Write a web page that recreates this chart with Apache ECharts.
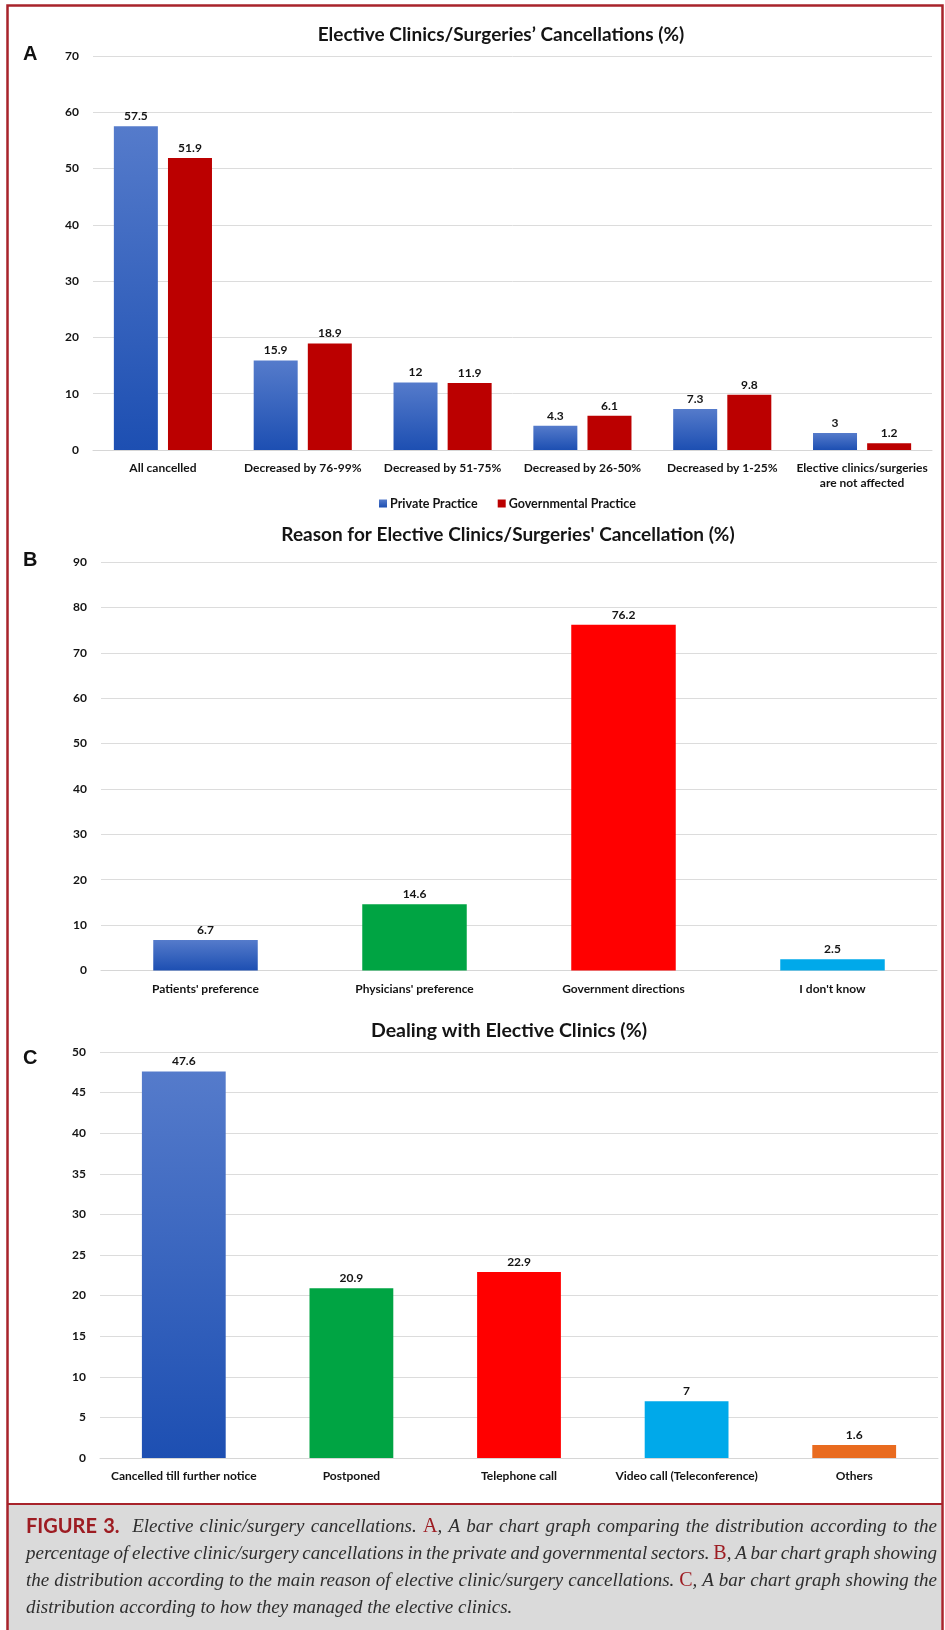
<!DOCTYPE html>
<html>
<head>
<meta charset="utf-8">
<script src="https://cdn.jsdelivr.net/npm/echarts@6/dist/echarts.min.js"></script>
<style>
  html, body { margin: 0; padding: 0; background: #fff; }
  #chart { width: 945px; height: 1630px; }
</style>
</head>
<body>
<div id="chart"></div>
<script>
// Panel A: share of elective clinic/surgery cancellations by sector
const categoriesA = ['All cancelled', 'Decreased by 76-99%', 'Decreased by 51-75%', 'Decreased by 26-50%', 'Decreased by 1-25%', 'Elective clinics/surgeries\nare not affected'];
const privatePractice = [57.5, 15.9, 12, 4.3, 7.3, 3];
const governmentalPractice = [51.9, 18.9, 11.9, 6.1, 9.8, 1.2];

// Panel B: reason for cancellation
const categoriesB = ["Patients' preference", "Physicians' preference", 'Government directions', "I don't know"];
const valuesB = [6.7, 14.6, 76.2, 2.5];

// Panel C: how elective clinics were handled
const categoriesC = ['Cancelled till further notice', 'Postponed', 'Telephone call', 'Video call (Teleconference)', 'Others'];
const valuesC = [47.6, 20.9, 22.9, 7, 1.6];

const titles = [
  'Elective Clinics/Surgeries\u2019 Cancellations (%)',
  "Reason for Elective Clinics/Surgeries' Cancellation (%)",
  'Dealing with Elective Clinics (%)'
];

const FONT = 'Lato, "Open Sans", sans-serif';
const TEXT = '#141414';

const blueGrad = new echarts.graphic.LinearGradient(0, 0, 0, 1, [
  { offset: 0, color: '#557bcb' },
  { offset: 1, color: '#1d4fb2' }
]);
const colorsB = [blueGrad, '#00a443', '#ff0000', '#00a9ea'];
const colorsC = [blueGrad, '#00a443', '#ff0000', '#00a9ea', '#e96b1f'];

const valueLabel = {
  show: true, position: 'top', distance: 4,
  fontFamily: FONT, fontWeight: 'bold', fontSize: 12, color: TEXT
};

function yAxis(gridIndex, max, interval) {
  return {
    type: 'value', gridIndex, min: 0, max, interval,
    axisLine: { show: false }, axisTick: { show: false },
    axisLabel: { fontFamily: FONT, fontWeight: 'bold', fontSize: 12, color: TEXT, margin: 14 },
    splitLine: { lineStyle: { color: '#dcdcdc', width: 1 } }
  };
}
function xAxis(gridIndex, data) {
  return {
    type: 'category', gridIndex, data,
    axisLine: { lineStyle: { color: '#d6d6d6', width: 1 } },
    axisTick: { show: false },
    axisLabel: { fontFamily: FONT, fontWeight: 'bold', fontSize: 12, color: TEXT, margin: 11, lineHeight: 15, interval: 0 }
  };
}

// Figure caption, laid out as justified lines of styled runs
const captionStyles = {
  fig: { font: 'bold 20px Lato, sans-serif', color: '#9d1c22' },
  it: { font: 'italic 19px "Liberation Serif", "DejaVu Serif", serif', color: '#2e2e2e' },
  ref: { font: '20px "Liberation Serif", "DejaVu Serif", serif', color: '#9d1c22' }
};
const captionLines = [
  [['FIGURE 3.', 'fig'], ['  Elective clinic/surgery cancellations. ', 'it'], ['A', 'ref'], [', A bar chart graph comparing the distribution according to the', 'it']],
  [['percentage of elective clinic/surgery cancellations in the private and governmental sectors. ', 'it'], ['B', 'ref'], [', A bar chart graph showing', 'it']],
  [['the distribution according to the main reason of elective clinic/surgery cancellations. ', 'it'], ['C', 'ref'], [', A bar chart graph showing the', 'it']],
  [['distribution according to how they managed the elective clinics.', 'it']]
];

function layoutCaption(x0, x1, yStart, lineGap) {
  const ctx = document.createElement('canvas').getContext('2d');
  const out = [];
  captionLines.forEach((runs, li) => {
    // split runs into words; each word remembers how many spaces precede it
    const words = [];
    let pending = 0;
    runs.forEach(([text, key]) => {
      const re = /( *)([^ ]+)/g;
      let m;
      while ((m = re.exec(text)) !== null) {
        words.push({ t: m[2], key, gap: words.length ? m[1].length + pending : 0 });
        pending = 0;
      }
      const trail = text.match(/ +$/);
      pending = trail ? trail[0].length : 0;
    });
    let wordsW = 0, gapUnits = 0;
    words.forEach(w => {
      ctx.font = captionStyles[w.key].font;
      w.w = ctx.measureText(w.t).width;
      wordsW += w.w;
      gapUnits += w.gap;
    });
    ctx.font = captionStyles.it.font;
    const spaceW = ctx.measureText(' ').width;
    const last = li === captionLines.length - 1;
    const unit = last || gapUnits === 0 ? spaceW : (x1 - x0 - wordsW) / gapUnits;
    let x = x0;
    const y = yStart + li * lineGap;
    words.forEach(w => {
      x += w.gap * unit;
      out.push({
        type: 'text', x, y, silent: true,
        style: { text: w.t, font: captionStyles[w.key].font, fill: captionStyles[w.key].color, verticalAlign: 'middle', align: 'left' }
      });
      x += w.w;
    });
  });
  return out;
}

const chart = echarts.init(document.getElementById('chart'), null, { renderer: 'canvas' });

const panelText = (text, x, y, size) => ({
  type: 'text', x, y, silent: true,
  style: { text, font: `bold ${size}px "Liberation Sans", Arial, sans-serif`, fill: '#111', verticalAlign: 'middle' }
});
const titleText = (text, x, y, size) => ({
  type: 'text', x, y, silent: true,
  style: { text, font: `bold ${size}px ${FONT}`, fill: TEXT, align: 'center', verticalAlign: 'middle' }
});

chart.setOption({
  animation: false,
  backgroundColor: '#ffffff',
  legend: {
    data: ['Private Practice', 'Governmental Practice'],
    left: 374, top: 492,
    itemWidth: 8, itemHeight: 8, itemGap: 20,
    icon: 'rect',
    textStyle: { fontFamily: FONT, fontWeight: 'bold', fontSize: 12.5, color: TEXT, padding: [0, 0, 0, -2] }
  },
  grid: [
    { left: 93, right: 13, top: 56, height: 394 },
    { left: 101, right: 8, top: 562, height: 408.5 },
    { left: 100, right: 7, top: 1052, height: 406 }
  ],
  xAxis: [xAxis(0, categoriesA), xAxis(1, categoriesB), xAxis(2, categoriesC)],
  yAxis: [yAxis(0, 70, 10), yAxis(1, 90, 10), yAxis(2, 50, 5)],
  series: [
    {
      name: 'Private Practice', type: 'bar', xAxisIndex: 0, yAxisIndex: 0,
      data: privatePractice, barWidth: 44, barGap: '23%',
      itemStyle: { color: blueGrad }, label: valueLabel
    },
    {
      name: 'Governmental Practice', type: 'bar', xAxisIndex: 0, yAxisIndex: 0,
      data: governmentalPractice, barWidth: 44, barGap: '23%',
      itemStyle: { color: '#bb0000' }, label: valueLabel
    },
    {
      name: 'Reason', type: 'bar', xAxisIndex: 1, yAxisIndex: 1,
      data: valuesB.map((v, i) => ({ value: v, itemStyle: { color: colorsB[i] } })),
      barWidth: '50%', label: valueLabel
    },
    {
      name: 'Dealing', type: 'bar', xAxisIndex: 2, yAxisIndex: 2,
      data: valuesC.map((v, i) => ({ value: v, itemStyle: { color: colorsC[i] } })),
      barWidth: '50%', label: valueLabel
    }
  ],
  graphic: [
    // caption panel
    { type: 'rect', silent: true, shape: { x: 8, y: 1504, width: 933, height: 140 }, style: { fill: '#dadada' } },
    { type: 'line', silent: true, shape: { x1: 7, y1: 1504, x2: 942, y2: 1504 }, style: { stroke: '#a8232b', lineWidth: 2 } },
    // outer frame
    { type: 'rect', silent: true, shape: { x: 7.5, y: 5.5, width: 935, height: 1700 }, style: { fill: 'none', stroke: '#a8232b', lineWidth: 2.5 } },
    titleText(titles[0], 501, 35, 19),
    titleText(titles[1], 508, 535, 19),
    titleText(titles[2], 509, 1031, 19.5),
    panelText('A', 23, 54, 20),
    panelText('B', 23, 560, 20),
    panelText('C', 23, 1058, 20),
    ...layoutCaption(26, 937, 1527, 27)
  ]
});
</script>
</body>
</html>
